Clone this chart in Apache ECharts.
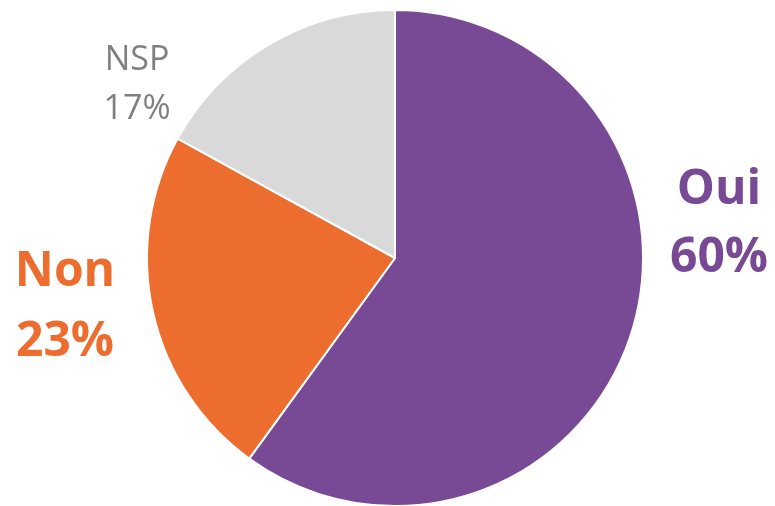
<!DOCTYPE html>
<html>
<head>
<meta charset="utf-8">
<script src="https://cdn.jsdelivr.net/npm/echarts@6/dist/echarts.min.js"></script>
<style>
html,body{margin:0;padding:0;background:#fff;}
#chart{width:775px;height:506px;}
</style>
</head>
<body>
<div id="chart"></div>
<script>
const categories = ['Oui', 'Non', 'NSP'];
const values = [60, 23, 17];
const colors = ['#784A96', '#ED6D2F', '#D9D9D9'];
const labelColors = ['#784A96', '#ED6D2F', '#808080'];
const labelWeights = ['bold', 'bold', 'normal'];
const labelSizes = [48, 48, 34];
const labelLineHeights = [68, 70, 49];
// where each label block sits (center of the text block)
const labelSpots = [[719, 224], [65, 307], [137, 85]];

const chart = echarts.init(document.getElementById('chart'));
chart.setOption({
  animation: false,
  series: [{
    type: 'pie',
    center: [395, 258],
    radius: [0, 248],
    startAngle: 90,
    clockwise: true,
    itemStyle: { borderColor: '#fff', borderWidth: 2 },
    labelLine: { show: false },
    label: {
      show: true,
      position: 'inside',
      overflow: 'none',
      formatter: p => p.name + '\n' + Math.round(p.percent) + '%',
      fontFamily: '"Open Sans", "Noto Sans", sans-serif',
      align: 'center'
    },
    labelLayout: params => ({
      x: labelSpots[params.dataIndex][0],
      y: labelSpots[params.dataIndex][1],
      align: 'center',
      verticalAlign: 'middle'
    }),
    data: categories.map((c, i) => ({
      name: c,
      value: values[i],
      itemStyle: { color: colors[i] },
      label: {
        color: labelColors[i],
        fontWeight: labelWeights[i],
        fontSize: labelSizes[i],
        lineHeight: labelLineHeights[i]
      }
    }))
  }]
});
</script>
</body>
</html>
